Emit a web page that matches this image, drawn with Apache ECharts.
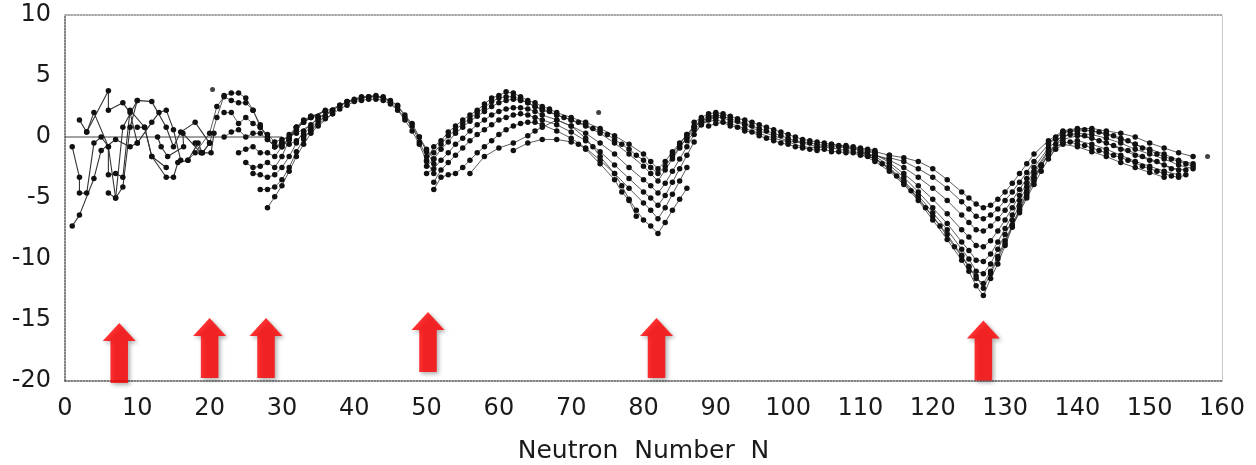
<!DOCTYPE html>
<html>
<head>
<meta charset="utf-8">
<script src="https://cdn.jsdelivr.net/npm/echarts@6/dist/echarts.min.js"></script>
<style>
  html, body { margin: 0; padding: 0; background: #fff; }
  #chart { width: 1256px; height: 465px; }
</style>
</head>
<body>
<div id="chart"></div>
<script>
// x ticks / y ticks
const xTicks = [0, 10, 20, 30, 40, 50, 60, 70, 80, 90, 100, 110, 120, 130, 140, 150, 160]
const yTicks = [-20, -15, -10, -5, 0, 5, 10]

// light nuclei chains  [N, E]
const lightA = [[1, -7.3], [2, -6.4], [4, -3.4], [5, -1.1], [7, -0.2], [9, -0.8], [10, -0.5]]
const lightB = [[1, -0.8], [2, -3.3], [2, -4.6], [3, -4.6], [4, -0.5], [5, 0], [6, -0.8], [7, -5.0], [8, -4.1], [9, 0.8], [10, 3.0]]
const lightC = [[2, 1.4], [3, 0.4], [4, 2.0], [6, -0.8], [6, -3.1], [7, -3.0], [8, -3.3], [9, 2.2], [11, 0.8], [12, -1.6], [14, -2.5]]
const lightD = [[3, 0.4], [6, 3.8], [6, 2.2], [8, 2.8], [9, 2.0], [10, -0.5], [12, 1.2], [13, 2.0], [14, 2.2], [15, 0.6], [16, -1.9]]
const lightE = [[6, -4.6], [7, -5.0], [8, 0.8], [10, 3.0], [12, 2.9], [14, 0.8], [15, -0.8], [16, 0.4], [18, 1.2], [20, -0.5]]
const lightF = [[10, 0.8], [11, 0.8], [12, -1.6], [14, -3.3], [15, -3.3], [15.6, -2.1], [17, -1.9], [18.4, -0.5], [19, -1.3], [20, -0.5]]
const lightG = [[12.8, 0], [13.3, -0.8], [14.2, -1.6], [16.4, -0.8], [16.3, 0.3], [18.8, -1.3], [20.2, -1.3], [20.6, 0.3]]

// N ~ 18-52
const midA = [[18, -0.5], [19, -1.3], [20, -0.5], [21, 1.6], [22, 3.4], [23, 3.6], [24, 3.6], [25, 3.2], [26, 2.2], [27, 1.0], [28, -0.2], [29, -0.8], [30, -0.6], [31, -0.2], [32, 0.6], [33, 1.2], [34, 1.6], [36, 2.1], [38, 2.6], [40, 3.0], [42, 3.3], [44, 3.3], [46, 2.6], [48, 0.9], [49, -0.4], [50, -1.6]]
const midB = [[17, -1.9], [18, -1.3], [20, 0.3], [21, 2.5], [22, 3.3], [23, 3.0], [24, 2.8], [25, 2.8], [26, 2.2], [27, 0.8], [28, 0.2], [29, -0.4], [30, -0.2], [32, 0.3], [34, 1.0], [35, 1.6], [37, 2.2], [39, 2.9], [41, 3.3], [43, 3.4], [45, 2.9], [47, 1.6], [49, 0], [50, -1.2], [51, -2.2]]
const midC = [[30, -0.5], [31, -0.6], [32, -0.3], [33, 0.3], [34, 0.8], [35, 1.3], [36, 1.7], [37, 2.2], [38, 2.6], [39, 2.9], [40, 3.1], [41, 3.2], [42, 3.3], [43, 3.3], [44, 3.2], [45, 3.0], [46, 2.5], [47, 1.8], [48, 1.1], [49, 0.0], [50, -1.0], [51, -1.8]]
const midD = [[33, 0.0], [34, 0.5], [35, 1.0], [36, 1.5], [37, 1.9], [38, 2.3], [39, 2.6], [40, 2.9], [41, 3.0], [42, 3.1], [43, 3.1], [44, 3.0], [45, 2.7], [46, 2.2], [47, 1.4], [48, 0.5], [49, -0.6], [50, -2.0], [51, -3.0]]
const fan1 = [[22, 2.0], [23, 2.0], [24, 1.1], [25, 1.6], [26, 1.1], [27, 0.8], [28, 0], [29, -0.8], [30, -0.4], [31, 0.2], [32, 0.8], [33, 1.2], [34, 1.6], [35, 1.7]]
const fan2 = [[22, 0], [23, 0.4], [24, 0.6], [25, 0], [26, 0.3], [27, 0.3], [28, -0.2], [29, -0.8], [30, -0.8], [31, -0.2], [32, 0.8], [33, 1.4], [34, 1.7], [36, 2.1]]
const fan3 = [[24, -1.3], [25, -1.0], [26, -0.8], [27, -1.3], [28, -1.3], [29, -1.6], [30, -0.8], [31, 0], [32, 0.8], [34, 1.6], [36, 2.2]]
const fan4 = [[25, -2.1], [26, -2.5], [27, -2.4], [28, -2.1], [29, -2.5], [30, -1.6], [31, -0.2], [32, 0.8], [34, 1.7]]
const fan5 = [[26, -3.0], [27, -3.1], [28, -3.3], [29, -3.1], [30, -2.5], [31, -1.6], [32, -0.5], [33, 0.5], [35, 1.5], [37, 2.2]]
const fan6 = [[27, -4.3], [28, -4.3], [29, -4.1], [30, -3.5], [31, -2.5], [32, -1.2], [33, -0.2], [34, 0.6], [36, 1.7]]
const fan7 = [[28, -5.8], [29, -4.9], [30, -4.0], [31, -2.8], [32, -1.6], [33, -0.6], [34, 0.3], [35, 0.9], [37, 1.9]]

// N ~ 50-90
const ridge1 = [[50, -1.9], [51, -0.8], [52, -0.3], [53, 0.4], [54, 0.9], [55, 1.4], [56, 1.8], [57, 2.2], [58, 2.7], [59, 3.2], [60, 3.4], [61, 3.7], [62, 3.6], [63, 3.3], [64, 3.0], [65, 2.8], [66, 2.5], [67, 2.3], [68, 2.0], [70, 1.6], [72, 1.2], [74, 0.7], [76, 0.1], [78, -0.6], [80, -1.4], [81, -2.0], [82, -2.6], [83, -2.0], [84, -1.2], [85, -0.5], [86, 0.2], [87, 0.8], [88, 1.3], [89, 1.6], [90, 1.8]]
const ridge1b = [[51, -1.3], [52, -0.6], [53, 0.1], [54, 0.6], [55, 1.1], [56, 1.5], [57, 2.0], [58, 2.4], [59, 2.9], [60, 3.2], [61, 3.3], [62, 3.3], [63, 3.1], [64, 2.8], [65, 2.5], [66, 2.3], [67, 2.1], [68, 1.8], [69, 1.6], [70, 1.4], [71, 1.2], [72, 1.0], [73, 0.7], [74, 0.5], [75, 0.2], [76, -0.2], [77, -0.6], [78, -1.0], [79, -1.5], [80, -1.9], [81, -2.5], [82, -3.0], [83, -2.4], [84, -1.6], [85, -0.8], [86, -0.1], [87, 0.6], [88, 1.1], [89, 1.5]]
const ridge2 = [[50, -2.4], [51, -1.8], [52, -1.0], [53, -0.4], [54, 0.3], [55, 0.8], [56, 1.3], [57, 1.7], [58, 2.1], [59, 2.5], [60, 2.8], [61, 3.0], [62, 3.1], [63, 3.0], [64, 2.8], [65, 2.5], [66, 2.2], [68, 1.8], [70, 1.4], [72, 0.9], [74, 0.3], [76, -0.5], [78, -1.4], [80, -2.4], [81, -3.0], [82, -3.6], [83, -2.7], [84, -1.8], [85, -0.9], [86, 0], [87, 0.8], [88, 1.3], [90, 1.7]]
const ridge3 = [[50, -3.0], [51, -2.6], [52, -1.9], [53, -1.3], [54, -0.6], [55, -0.1], [56, 0.5], [57, 1.0], [58, 1.4], [59, 1.8], [60, 2.1], [61, 2.3], [62, 2.4], [63, 2.4], [64, 2.3], [65, 2.1], [66, 1.8], [68, 1.4], [70, 0.9], [72, 0.3], [74, -0.5], [76, -1.4], [78, -2.5], [80, -3.5], [81, -4.0], [82, -4.6], [83, -3.8], [84, -2.8], [85, -1.8], [86, -0.8], [87, 0.2], [88, 1.0]]
const ridge4 = [[51, -3.7], [52, -2.7], [53, -2.1], [54, -1.5], [55, -0.9], [56, -0.3], [57, 0.2], [58, 0.6], [59, 1.0], [60, 1.4], [61, 1.6], [62, 1.8], [63, 1.9], [64, 1.8], [65, 1.6], [66, 1.4], [68, 1.0], [70, 0.4], [72, -0.3], [74, -1.2], [76, -2.3], [78, -3.4], [80, -4.5], [81, -5.0], [82, -5.6], [83, -4.8], [84, -3.7], [85, -2.6], [86, -1.5], [87, -0.4]]
const ridge5 = [[51, -4.3], [52, -3.3], [53, -3.1], [54, -3.0], [55, -2.5], [56, -1.9], [57, -1.3], [58, -0.8], [59, -0.3], [60, 0.2], [61, 0.6], [62, 0.9], [63, 1.1], [64, 1.2], [65, 1.2], [66, 1.0], [68, 0.5], [70, -0.1], [72, -0.9], [74, -1.9], [76, -3.0], [78, -4.2], [80, -5.4], [81, -6.0], [82, -6.7], [83, -5.8], [84, -4.7], [85, -3.6], [86, -2.5]]
const ridge6 = [[56, -3.0], [58, -1.6], [60, -0.9], [62, -0.5], [64, 0.1], [65, 0.5], [66, 0.8], [68, 1.4], [70, 0.9], [72, -0.1], [73, -0.8], [74, -1.6], [76, -3.0], [77, -4.0], [78, -5.1], [79, -6.0], [80, -6.8], [81, -7.3], [82, -7.9], [83, -7.0], [84, -6.0], [85, -5.1], [86, -4.2]]
const ridge7 = [[62, -1.1], [64, -0.5], [66, -0.2], [68, -0.2], [70, -0.4], [71, -0.6], [72, -1.0], [74, -2.2], [76, -3.5], [77, -4.5], [78, -5.2], [79, -6.5]]

// N ~ 84-114
const band1 = [[84, -1.4], [85, -0.6], [86, 0.2], [87, 0.9], [88, 1.4], [89, 1.7], [90, 1.8], [91, 1.7], [92, 1.5], [93, 1.3], [94, 1.1], [95, 0.9], [96, 0.7], [97, 0.5], [98, 0.3], [99, 0.1], [100, -0.1], [101, -0.3], [102, -0.4], [103, -0.5], [104, -0.6], [105, -0.7], [106, -0.8], [107, -0.8], [108, -0.9], [109, -1.0], [110, -1.1], [111, -1.2], [112, -1.3]]
const band2 = [[86, -0.3], [88, 1.0], [89, 1.4], [90, 1.6], [91, 1.6], [92, 1.3], [94, 1.0], [96, 0.5], [98, 0.1], [100, -0.3], [102, -0.5], [104, -0.8], [106, -0.9], [108, -1.1], [110, -1.3], [112, -1.5], [114, -1.8]]
const band3 = [[88, 1.1], [90, 1.4], [92, 1.1], [94, 0.7], [96, 0.3], [98, -0.1], [100, -0.4], [102, -0.8], [104, -0.9], [106, -0.6], [108, -0.8], [110, -1.0], [112, -1.2], [114, -1.5]]
const band4 = [[87, 1.2], [88, 1.6], [89, 1.9], [90, 2.0], [91, 1.9], [92, 1.7], [93, 1.5], [94, 1.4], [95, 1.2], [96, 1.0], [97, 0.8], [98, 0.6], [99, 0.4], [100, 0.2], [101, 0.0], [102, -0.2], [103, -0.3], [104, -0.4], [105, -0.5], [106, -0.6], [107, -0.7], [108, -0.7], [109, -0.8], [110, -0.9], [111, -1.0], [112, -1.1]]
const band5 = [[89, 0.9], [90, 1.1], [91, 1.2], [92, 0.9], [93, 0.8], [94, 0.5], [95, 0.4], [96, 0.1], [97, -0.1], [98, -0.3], [99, -0.5], [100, -0.6], [101, -0.8], [102, -0.9], [103, -1.0], [104, -1.1], [105, -1.0], [106, -1.2], [107, -1.2], [108, -1.3], [109, -1.3], [110, -1.5], [111, -1.6], [112, -1.8]]

// N ~ 110-158
const deep1 = [[114, -1.5], [116, -1.7], [118, -2.0], [120, -2.6], [122, -3.5], [124, -4.5], [125, -5.0], [126, -5.5], [127, -5.8], [128, -5.6], [129, -5.1], [130, -4.5], [131, -3.8], [132, -3.0], [133, -2.2], [134, -1.4], [136, -0.3], [138, 0.5], [140, 0.7], [142, 0.7], [144, 0.5], [146, 0.3], [148, 0], [150, -0.5], [152, -0.9], [154, -1.3], [156, -1.6]]
const deep2 = [[114, -1.7], [116, -2.0], [118, -2.6], [120, -3.3], [122, -4.2], [124, -5.3], [125, -5.9], [126, -6.5], [127, -6.7], [128, -6.4], [129, -5.9], [130, -5.2], [131, -4.5], [132, -3.7], [133, -2.9], [134, -2.0], [136, -0.6], [138, 0.4], [140, 0.5], [142, 0.5], [144, 0.2], [146, -0.2], [148, -0.6], [150, -1.0], [152, -1.4], [154, -1.9], [156, -2.2]]
const deep3 = [[112, -1.5], [114, -1.9], [116, -2.5], [118, -3.3], [120, -4.2], [122, -5.2], [124, -6.4], [125, -7.0], [126, -7.6], [127, -7.7], [128, -7.3], [129, -6.7], [130, -6.0], [131, -5.2], [132, -4.3], [133, -3.4], [134, -2.5], [136, -0.9], [138, 0.1], [140, 0.3], [142, 0.2], [144, -0.1], [146, -0.5], [148, -1.0], [150, -1.4], [152, -1.8], [154, -2.3], [156, -2.6]]
const deep4 = [[112, -1.4], [114, -2.1], [116, -3.0], [118, -4.0], [120, -5.1], [122, -6.3], [124, -7.6], [125, -8.2], [126, -8.9], [127, -9.0], [128, -8.5], [129, -7.7], [130, -6.8], [131, -5.8], [132, -4.8], [133, -3.8], [134, -2.8], [136, -1.1], [138, -0.2], [140, 0.1], [142, -0.1], [144, -0.5], [146, -1.0], [148, -1.5], [150, -1.9], [152, -2.3], [154, -2.7]]
const deep5 = [[110, -1.2], [112, -1.6], [114, -2.3], [116, -3.3], [118, -4.5], [120, -5.8], [122, -7.1], [124, -8.6], [125, -9.3], [126, -10.1], [127, -10.2], [128, -9.6], [129, -8.6], [130, -7.5], [131, -6.4], [132, -5.2], [133, -4.1], [134, -3.0], [136, -1.2], [138, -0.5], [140, -0.3], [142, -0.6], [144, -1.0], [146, -1.5], [148, -2.0], [150, -2.4], [152, -2.8], [154, -3.1]]
const deep6 = [[110, -1.3], [112, -1.8], [114, -2.5], [116, -3.6], [118, -4.8], [120, -6.2], [122, -7.6], [124, -9.2], [125, -10.0], [126, -11.0], [127, -11.2], [128, -10.4], [129, -9.2], [130, -8.0], [131, -6.8], [132, -5.6], [133, -4.4], [134, -3.3], [135, -2.3], [136, -1.5], [138, -0.6], [140, -0.8], [142, -1.2], [144, -1.6], [146, -2.1], [148, -2.5], [150, -2.9], [152, -3.3]]
const deep7 = [[110, -1.1], [112, -1.7], [114, -2.6], [116, -3.7], [118, -5.0], [120, -6.5], [122, -8.0], [124, -9.7], [125, -10.6], [126, -11.6], [127, -12.0], [128, -11.0], [129, -9.8], [130, -8.5], [131, -7.2], [132, -5.9], [133, -4.6], [134, -3.4], [135, -2.3], [136, -1.4], [138, -0.4]]
const deep8 = [[110, -1.4], [112, -2.0], [114, -2.8], [116, -3.9], [118, -5.2], [120, -6.8], [122, -8.4], [124, -10.1], [125, -11.0], [126, -12.2], [127, -13.0], [128, -11.6], [129, -10.4], [130, -8.9], [131, -7.4], [132, -6.0], [133, -4.8], [134, -3.6], [135, -2.4], [136, -1.4], [137, -0.6], [138, 0]]
const deep9 = [[111, -1.5], [113, -2.2], [115, -3.2], [117, -4.4], [119, -5.8], [121, -7.3], [123, -9.0], [124, -9.8], [125, -10.7], [126, -11.4], [127, -12.4], [128, -11.2], [129, -10.0], [130, -8.7], [131, -7.3], [132, -6.2], [133, -5.0], [134, -3.9], [135, -2.8], [136, -1.8], [137, -1.0]]
const tail1 = [[136, -0.5], [137, 0], [138, 0.3], [139, 0.5], [140, 0.6], [141, 0.6], [142, 0.5], [143, 0.4], [144, 0.3], [145, 0.1], [146, -0.1], [147, -0.3], [148, -0.6], [149, -0.9], [150, -1.1], [151, -1.4], [152, -1.6], [153, -1.8], [154, -2.0], [155, -2.2], [156, -2.4]]
const tail2 = [[139, -0.4], [140, -0.6], [141, -0.7], [142, -0.9], [143, -1.1], [144, -1.3], [145, -1.5], [146, -1.7], [147, -1.9], [148, -2.1], [149, -2.4], [150, -2.6], [151, -2.8], [152, -3.0], [153, -3.2], [154, -3.3], [155, -3.1]]
const tail3 = [[137, -0.2], [139, 0.2], [141, 0.1], [143, -0.3], [145, -0.7], [147, -1.1], [149, -1.6], [151, -2.0], [153, -2.6], [155, -2.7]]

const strayPoints = [[158, -1.6], [20.4, 3.9], [73.8, 2.0]]
const zeroLine = [[0, 0], [30, 0]]

// red arrows at the magic numbers
const arrowN = [7.5, 20, 27.8, 50.2, 81.8, 127]
const arrowE = [-17.7, -17.3, -17.3, -16.8, -17.3, -17.5]

const lightChains = [lightA, lightB, lightC, lightD, lightE, lightF, lightG]
const chains = [
  midA, midB, midC, midD, fan1, fan2, fan3, fan4, fan5, fan6, fan7,
  ridge1, ridge1b, ridge2, ridge3, ridge4, ridge5, ridge6, ridge7,
  band1, band2, band3, band4, band5,
  deep1, deep2, deep3, deep4, deep5, deep6, deep7, deep8, deep9, tail1, tail2, tail3
]

const chart = echarts.init(document.getElementById('chart'))

const labelFont = { color: '#1a1a1a', fontSize: 24, fontFamily: 'DejaVu Sans' }
const dotted = { color: '#555', type: 'dotted', width: 1.5 }

const lineSeries = (data, width) => ({
  type: 'line',
  data: data,
  symbol: 'circle',
  symbolSize: 5.5,
  silent: true,
  itemStyle: { color: '#111' },
  lineStyle: { color: '#333', width: width },
  z: 3
})

const series = [
  {
    type: 'line',
    data: zeroLine,
    symbol: 'none',
    lineStyle: { color: '#444', width: 1 },
    z: 2
  },
  ...lightChains.map(d => lineSeries(d, 1.1)),
  ...chains.map(d => lineSeries(d, 0.8)),
  {
    type: 'scatter',
    data: strayPoints,
    symbolSize: 5,
    itemStyle: { color: '#111' }
  },
  {
    type: 'scatter',
    data: arrowN.map((n, i) => [n, arrowE[i]]),
    symbol: 'path://M16 0 L32 18 L24.5 18 L24.5 60 L7.5 60 L7.5 18 L0 18 Z',
    symbolSize: [33, 60],
    itemStyle: {
      color: '#ff0000',
      shadowBlur: 4,
      shadowColor: 'rgba(0,0,0,0.4)',
      shadowOffsetX: 2,
      shadowOffsetY: 2
    },
    z: 5
  }
]

chart.setOption({
  animation: false,
  backgroundColor: '#fff',
  grid: { left: 65, right: 34, top: 15, bottom: 84, containLabel: false, outerBoundsMode: 'none' },
  xAxis: [
    {
      type: 'value',
      min: xTicks[0],
      max: xTicks[xTicks.length - 1],
      interval: 10,
      name: 'Neutron  Number  N',
      nameLocation: 'middle',
      nameGap: 58,
      nameTextStyle: { color: '#1a1a1a', fontSize: 25, fontFamily: 'DejaVu Sans' },
      axisLine: { onZero: false, lineStyle: dotted },
      axisTick: { show: false },
      splitLine: { show: false },
      axisLabel: { ...labelFont, margin: 16 }
    },
    {
      type: 'value',
      position: 'top',
      min: 0,
      max: 160,
      axisLine: { show: true, onZero: false, lineStyle: { color: '#888', type: 'dotted', width: 1.5 } },
      axisTick: { show: false },
      axisLabel: { show: false },
      splitLine: { show: false }
    }
  ],
  yAxis: [
    {
      type: 'value',
      min: yTicks[0],
      max: yTicks[yTicks.length - 1],
      interval: 5,
      axisLine: { show: true, onZero: false, lineStyle: dotted },
      axisTick: { show: false },
      splitLine: { show: false },
      axisLabel: { ...labelFont, margin: 14 }
    },
    {
      type: 'value',
      position: 'right',
      min: -20,
      max: 10,
      axisLine: { show: true, onZero: false, lineStyle: { color: '#bbb', type: 'dotted', width: 1 } },
      axisTick: { show: false },
      axisLabel: { show: false },
      splitLine: { show: false }
    }
  ],
  series: series
})
</script>
</body>
</html>
